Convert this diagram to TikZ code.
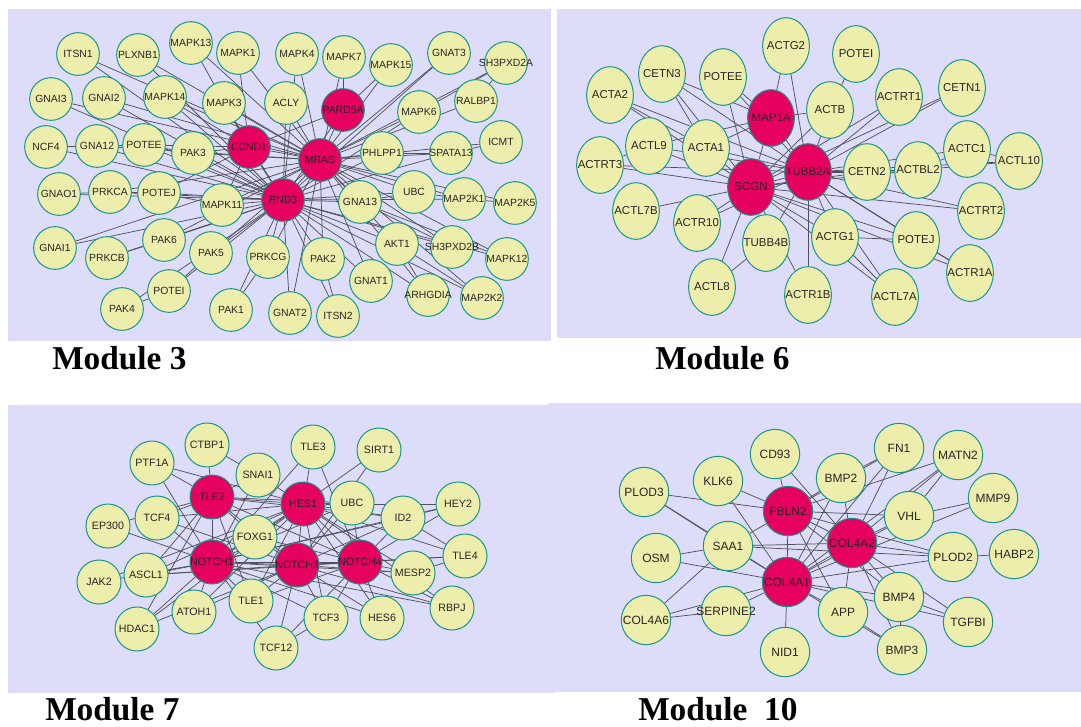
\documentclass[tikz,border=0pt]{standalone}
\usepackage{fontspec}
\setmainfont{Liberation Sans}
\newfontfamily\serifb{Liberation Serif}
\usetikzlibrary{shapes.geometric}
\definecolor{lav}{RGB}{221,221,249}
\definecolor{yel}{RGB}{238,238,172}
\definecolor{bord}{RGB}{24,150,140}
\definecolor{hubc}{RGB}{230,0,96}
\definecolor{edgec}{RGB}{80,80,90}
\pgfdeclarelayer{panel}
\pgfdeclarelayer{edges}
\pgfsetlayers{panel,edges,main}
\tikzset{
  edge/.style={draw=edgec, line width=0.55pt},
  panelbox/.style={fill=lav, draw=none},
  nA/.style={circle, draw=bord, fill=yel, line width=0.75pt, minimum size=32pt, inner sep=0pt},
  hA/.style={nA, fill=hubc},
  nAt/.style={font=\fontsize{7.8}{8}\selectfont, inner sep=0pt, text=black!85},
  hAt/.style={nAt},
  nB/.style={ellipse, draw=bord, fill=yel, line width=0.75pt, minimum width=35pt, minimum height=42.5pt, inner sep=0pt},
  hB/.style={nB, fill=hubc},
  nBt/.style={font=\fontsize{8.6}{9}\selectfont, inner sep=0pt, text=black!85},
  hBt/.style={nBt},
  nC/.style={circle, draw=bord, fill=yel, line width=0.75pt, minimum size=33pt, inner sep=0pt},
  hC/.style={nC, fill=hubc},
  nCt/.style={font=\fontsize{8}{9}\selectfont, inner sep=0pt, text=black!85},
  hCt/.style={nCt},
  nD/.style={circle, draw=bord, fill=yel, line width=0.75pt, minimum size=37pt, inner sep=0pt},
  hD/.style={nD, fill=hubc},
  nDt/.style={font=\fontsize{9}{10}\selectfont, inner sep=0pt, text=black!85},
  hDt/.style={nDt},
  modlabel/.style={font=\serifb\bfseries\fontsize{25}{28}\selectfont, inner sep=0pt, anchor=base west}
}
\newcommand\gnode[5]{\node[#1, label={[#1t]center:#5}] (#2) at (#3,#4) {};}
\newcommand\links[3]{\foreach \t in {#3} {\draw[edge] (#1#2) -- (#1\t);}}
\begin{document}
\begin{tikzpicture}[x=0.75pt, y=-0.75pt]
\useasboundingbox (0,0) rectangle (1081,726);
\begin{pgfonlayer}{panel}
\fill[white] (0,0) rectangle (1081,726);
\path[panelbox] (8,9) rectangle (551,341);
\path[panelbox] (557,9) rectangle (1081,338);
\path[panelbox] (8,405) rectangle (555,693);
\path[panelbox] (548,403) rectangle (1081,692);
\end{pgfonlayer}

% ---------------- Module 3 ----------------
\gnode{nA}{aITSN1}{78}{54}{ITSN1}
\gnode{nA}{aPLXNB1}{138}{55}{PLXNB1}
\gnode{nA}{aMAPK13}{191}{43}{MAPK13}
\gnode{nA}{aMAPK1}{238}{53}{MAPK1}
\gnode{nA}{aMAPK4}{297}{54}{MAPK4}
\gnode{nA}{aMAPK7}{344}{57}{MAPK7}
\gnode{nA}{aMAPK15}{391}{65}{MAPK15}
\gnode{nA}{aGNAT3}{449}{53}{GNAT3}
\gnode{nA}{aSH3PXD2A}{506}{63}{SH3PXD2A}
\gnode{nA}{aGNAI3}{51}{99}{GNAI3}
\gnode{nA}{aGNAI2}{104}{98}{GNAI2}
\gnode{nA}{aMAPK14}{165}{97}{MAPK14}
\gnode{nA}{aMAPK3}{224}{103}{MAPK3}
\gnode{nA}{aACLY}{286}{103}{ACLY}
\gnode{hA}{aPARD6A}{343}{110}{PARD6A}
\gnode{nA}{aMAPK6}{419}{112}{MAPK6}
\gnode{nA}{aRALBP1}{476}{101}{RALBP1}
\gnode{nA}{aICMT}{501}{142}{ICMT}
\gnode{nA}{aNCF4}{46}{147}{NCF4}
\gnode{nA}{aGNA12}{97}{146}{GNA12}
\gnode{nA}{aPOTEE}{144}{145}{POTEE}
\gnode{nA}{aPAK3}{193}{153}{PAK3}
\gnode{hA}{aCCND1}{249}{147}{CCND1}
\gnode{hA}{aMRAS}{320}{160}{MRAS}
\gnode{nA}{aPHLPP1}{382}{153}{PHLPP1}
\gnode{nA}{aSPATA13}{451}{153}{SPATA13}
\gnode{nA}{aGNAO1}{59}{194}{GNAO1}
\gnode{nA}{aPRKCA}{110}{192}{PRKCA}
\gnode{nA}{aPOTEJ}{159}{193}{POTEJ}
\gnode{nA}{aMAPK11}{222}{205}{MAPK11}
\gnode{hA}{aRND3}{283}{200}{RND3}
\gnode{nA}{aGNA13}{360}{202}{GNA13}
\gnode{nA}{aUBC}{414}{192}{UBC}
\gnode{nA}{aMAP2K1}{464}{199}{MAP2K1}
\gnode{nA}{aMAP2K5}{515}{203}{MAP2K5}
\gnode{nA}{aGNAI1}{55}{248}{GNAI1}
\gnode{nA}{aPRKCB}{107}{258}{PRKCB}
\gnode{nA}{aPAK6}{164}{240}{PAK6}
\gnode{nA}{aPAK5}{211}{253}{PAK5}
\gnode{nA}{aPRKCG}{268}{257}{PRKCG}
\gnode{nA}{aPAK2}{323}{259}{PAK2}
\gnode{nA}{aAKT1}{397}{244}{AKT1}
\gnode{nA}{aSH3PXD2B}{452}{247}{SH3PXD2B}
\gnode{nA}{aMAPK12}{507}{259}{MAPK12}
\gnode{nA}{aPOTEI}{169}{291}{POTEI}
\gnode{nA}{aPAK4}{122}{309}{PAK4}
\gnode{nA}{aPAK1}{231}{310}{PAK1}
\gnode{nA}{aGNAT2}{290}{313}{GNAT2}
\gnode{nA}{aITSN2}{338}{316}{ITSN2}
\gnode{nA}{aGNAT1}{371}{281}{GNAT1}
\gnode{nA}{aARHGDIA}{428}{295}{ARHGDIA}
\gnode{nA}{aMAP2K2}{482}{298}{MAP2K2}

% ---------------- Module 6 ----------------
\gnode{nB}{bACTG2}{786}{46}{ACTG2}
\gnode{nB}{bCETN3}{662}{74}{CETN3}
\gnode{nB}{bPOTEE}{723}{77}{POTEE}
\gnode{nB}{bACTA2}{610}{95}{ACTA2}
\gnode{hB}{bMAP1A}{771}{118}{MAP1A}
\gnode{nB}{bACTL9}{649}{146}{ACTL9}
\gnode{nB}{bACTA1}{706}{148}{ACTA1}
\gnode{nB}{bACTRT3}{600}{165}{ACTRT3}
\gnode{nB}{bACTB}{830}{110}{ACTB}
\gnode{hB}{bSCGN}{751}{187}{SCGN}
\gnode{hB}{bTUBB2A}{808}{172}{TUBB2A}
\gnode{nB}{bPOTEI}{856}{54}{POTEI}
\gnode{nB}{bACTRT1}{899}{97}{ACTRT1}
\gnode{nB}{bCETN1}{962}{88}{CETN1}
\gnode{nB}{bACTC1}{967}{149}{ACTC1}
\gnode{nB}{bACTL10}{1019}{161}{ACTL10}
\gnode{nB}{bCETN2}{867}{172}{CETN2}
\gnode{nB}{bACTBL2}{918}{170}{ACTBL2}
\gnode{nB}{bACTL7B}{636}{211}{ACTL7B}
\gnode{nB}{bACTR10}{697}{223}{ACTR10}
\gnode{nB}{bTUBB4B}{766}{243}{TUBB4B}
\gnode{nB}{bACTL8}{712}{287}{ACTL8}
\gnode{nB}{bACTR1B}{808}{295}{ACTR1B}
\gnode{nB}{bACTRT2}{981}{211}{ACTRT2}
\gnode{nB}{bACTG1}{835}{237}{ACTG1}
\gnode{nB}{bPOTEJ}{916}{240}{POTEJ}
\gnode{nB}{bACTR1A}{970}{273}{ACTR1A}
\gnode{nB}{bACTL7A}{895}{297}{ACTL7A}

% ---------------- Module 7 ----------------
\gnode{nC}{cCTBP1}{207}{445}{CTBP1}
\gnode{nC}{cPTF1A}{152}{463}{PTF1A}
\gnode{nC}{cSNAI1}{258}{475}{SNAI1}
\gnode{hC}{cTLE2}{212}{497}{TLE2}
\gnode{nC}{cTCF4}{157}{518}{TCF4}
\gnode{nC}{cEP300}{108}{526}{EP300}
\gnode{nC}{cFOXG1}{255}{537}{FOXG1}
\gnode{hC}{cNOTCH1}{212}{562}{NOTCH1}
\gnode{nC}{cJAK2}{99}{582}{JAK2}
\gnode{nC}{cASCL1}{146}{575}{ASCL1}
\gnode{nC}{cATOH1}{194}{612}{ATOH1}
\gnode{nC}{cTLE1}{251}{601}{TLE1}
\gnode{nC}{cHDAC1}{137}{629}{HDAC1}
\gnode{nC}{cTCF12}{276}{648}{TCF12}
\gnode{nC}{cTLE3}{313}{447}{TLE3}
\gnode{nC}{cSIRT1}{379}{450}{SIRT1}
\gnode{hC}{cHES1}{303}{504}{HES1}
\gnode{nC}{cUBC}{352}{503}{UBC}
\gnode{nC}{cID2}{403}{518}{ID2}
\gnode{nC}{cHEY2}{458}{504}{HEY2}
\gnode{hC}{cNOTCH3}{297}{565}{NOTCH3}
\gnode{hC}{cNOTCH4}{360}{562}{NOTCH4}
\gnode{nC}{cMESP2}{413}{573}{MESP2}
\gnode{nC}{cTLE4}{465}{556}{TLE4}
\gnode{nC}{cTCF3}{326}{618}{TCF3}
\gnode{nC}{cHES6}{382}{618}{HES6}
\gnode{nC}{cRBPJ}{452}{608}{RBPJ}

% ---------------- Module 10 ----------------
\gnode{nD}{dCD93}{775}{454}{CD93}
\gnode{nD}{dKLK6}{718}{481}{KLK6}
\gnode{nD}{dPLOD3}{644}{492}{PLOD3}
\gnode{hD}{dFBLN2}{788}{511}{FBLN2}
\gnode{nD}{dSAA1}{728}{546}{SAA1}
\gnode{nD}{dOSM}{656}{558}{OSM}
\gnode{hD}{dCOL4A1}{787}{582}{COL4A1}
\gnode{nD}{dCOL4A6}{646}{620}{COL4A6}
\gnode{nD}{dSERPINE2}{726}{611}{SERPINE2}
\gnode{nD}{dNID1}{785}{652}{NID1}
\gnode{nD}{dFN1}{899}{448}{FN1}
\gnode{nD}{dMATN2}{958}{455}{MATN2}
\gnode{nD}{dBMP2}{841}{478}{BMP2}
\gnode{nD}{dMMP9}{993}{498}{MMP9}
\gnode{nD}{dVHL}{909}{516}{VHL}
\gnode{hD}{dCOL4A2}{852}{543}{COL4A2}
\gnode{nD}{dPLOD2}{953}{557}{PLOD2}
\gnode{nD}{dHABP2}{1014}{554}{HABP2}
\gnode{nD}{dBMP4}{899}{597}{BMP4}
\gnode{nD}{dAPP}{843}{612}{APP}
\gnode{nD}{dTGFBI}{968}{622}{TGFBI}
\gnode{nD}{dBMP3}{902}{650}{BMP3}

% ---------------- edges ----------------
\begin{pgfonlayer}{edges}
% Module 3
\links{a}{MRAS}{MAPK13,MAPK1,MAPK4,MAPK7,MAPK15,GNAT3,SH3PXD2A,ACLY,PARD6A,MAPK6,RALBP1,PHLPP1,SPATA13,ICMT,MAPK14,MAPK3,ITSN1,PLXNB1,GNAI2,GNAI3,CCND1,RND3,UBC,MAP2K1,MAP2K5,GNA13,AKT1,SH3PXD2B,MAPK12,MAP2K2,ARHGDIA,PAK3,GNA12,PRKCA,MAPK11,GNAI1,PAK6,PAK5,PRKCG,GNAT2,PAK2,GNAT1}
\links{a}{RND3}{PAK3,POTEE,GNA12,NCF4,GNAO1,PRKCA,POTEJ,MAPK11,GNAI1,PRKCB,PAK6,PAK5,POTEI,PAK4,PAK1,PRKCG,GNAT2,ITSN2,PAK2,GNAT1,GNA13,AKT1,ARHGDIA,MAP2K2,UBC,MAP2K1,CCND1,MAPK14,MAPK3,PARD6A,PHLPP1,SPATA13,MAPK12,SH3PXD2B,ITSN1,PLXNB1,GNAI3,GNAI2,MAPK4,ACLY,GNAT3,MAPK6}
\links{a}{CCND1}{MAPK13,MAPK1,MAPK3,MAPK14,PAK3,POTEE,POTEJ,MAPK11,PARD6A}
\links{a}{PARD6A}{MAPK15,MAPK7}
\draw[edge] (aNCF4) -- (aGNA12);
\draw[edge] (aGNA12) -- (aPOTEE);
\draw[edge] (aPOTEE) -- (aPAK3);
\draw[edge] (aGNAO1) -- (aPRKCA);
\draw[edge] (aPRKCA) -- (aPOTEJ);
\draw[edge] (aPOTEJ) -- (aMAPK11);
\draw[edge] (aPRKCB) -- (aPAK6);
\draw[edge] (aPOTEI) -- (aPAK4);
\draw[edge] (aPOTEI) -- (aPAK5);
\draw[edge] (aPAK1) -- (aPRKCG);
\draw[edge] (aPAK2) -- (aITSN2);
\draw[edge] (aGNA13) -- (aUBC);
\draw[edge] (aUBC) -- (aMAP2K1);
\draw[edge] (aMAP2K1) -- (aMAP2K5);
\draw[edge] (aRALBP1) -- (aSH3PXD2A);
\draw[edge] (aMAPK6) -- (aSH3PXD2A);
\draw[edge] (aSPATA13) -- (aICMT);
\draw[edge] (aPHLPP1) -- (aSPATA13);
\draw[edge] (aAKT1) -- (aMAP2K2);
\draw[edge] (aAKT1) -- (aARHGDIA);
\draw[edge] (aGNA13) -- (aSH3PXD2B);
\draw[edge] (aGNA13) -- (aMAPK12);
% Module 6
\links{b}{SCGN}{ACTRT3,ACTL7B,ACTR10,ACTL8,TUBB4B,ACTR1B,ACTG1,ACTA1,ACTL9,ACTA2,CETN3,POTEE,ACTB,ACTRT1,CETN1,CETN2,ACTBL2,ACTRT2,POTEJ,ACTL7A,ACTR1A,MAP1A,TUBB2A}
\links{b}{TUBB2A}{ACTG2,ACTB,ACTRT1,CETN1,ACTC1,ACTL10,CETN2,ACTBL2,ACTRT2,POTEJ,ACTR1A,ACTL7A,ACTG1,ACTR1B,TUBB4B,ACTR10,ACTA1,ACTRT3,ACTL9,POTEE,CETN3,ACTA2,MAP1A}
\links{b}{MAP1A}{ACTG2,POTEE,CETN3,ACTA1,ACTL9,ACTB}
\draw[edge] (bPOTEI) -- (bACTB);
\draw[edge] (bCETN2) -- (bACTBL2);
\draw[edge] (bACTBL2) -- (bACTC1);
\draw[edge] (bACTC1) -- (bACTL10);
\draw[edge] (bACTBL2) -- (bACTL10);
\draw[edge] (bPOTEJ) -- (bACTR1A);
\draw[edge] (bACTG1) -- (bACTL7A);
\draw[edge] (bACTG1) -- (bPOTEJ);
\draw[edge] (bTUBB4B) -- (bACTL8);
\draw[edge] (bACTA1) -- (bACTA2);
\draw[edge] (bACTA1) -- (bCETN3);
\draw[edge] (bACTRT3) -- (bACTL9);
% Module 7
\links{c}{TLE2}{CTBP1,PTF1A,SNAI1,TCF4,FOXG1,NOTCH1,HES1,NOTCH3,NOTCH4,ASCL1,HDAC1,UBC,ID2,TLE1,EP300}
\links{c}{HES1}{TLE3,SIRT1,SNAI1,UBC,ID2,HEY2,NOTCH1,NOTCH3,NOTCH4,FOXG1,TCF4,PTF1A,ASCL1,ATOH1,TLE1,HES6,MESP2,TLE4,RBPJ,TCF3,HDAC1,JAK2}
\links{c}{NOTCH1}{PTF1A,TCF4,EP300,JAK2,ASCL1,HDAC1,ATOH1,TLE1,TCF12,TCF3,HES6,FOXG1,NOTCH3,NOTCH4,MESP2,RBPJ,UBC,ID2,HEY2,TLE3,SNAI1}
\links{c}{NOTCH3}{TCF12,TCF3,HES6,TLE1,ATOH1,ASCL1,MESP2,RBPJ,TLE4,ID2,NOTCH4,FOXG1,TCF4,HDAC1,UBC,SIRT1}
\links{c}{NOTCH4}{MESP2,RBPJ,TLE4,ID2,HEY2,HES6,TCF3,TCF12,FOXG1,UBC,TLE1,TLE3,ASCL1}
\draw[edge] (cID2) -- (cHEY2);
\draw[edge] (cID2) -- (cTLE4);
\draw[edge] (cMESP2) -- (cTLE4);
\draw[edge] (cTCF3) -- (cTCF12);
\draw[edge] (cCTBP1) -- (cSNAI1);
% Module 10
\links{d}{FBLN2}{CD93,KLK6,PLOD3,SAA1,COL4A1,COL4A2,BMP2,FN1,VHL,PLOD2,APP,BMP4,MATN2}
\links{d}{COL4A1}{COL4A2,SAA1,OSM,SERPINE2,NID1,APP,BMP4,BMP3,PLOD2,VHL,MMP9,BMP2,KLK6,FN1,COL4A6,TGFBI,PLOD3,MATN2}
\links{d}{COL4A2}{BMP2,FN1,VHL,PLOD2,BMP4,TGFBI,BMP3,APP,SAA1,CD93,MATN2}
\draw[edge] (dPLOD3) -- (dSAA1);
\draw[edge] (dCOL4A6) -- (dSAA1);
\draw[edge] (dCOL4A6) -- (dSERPINE2);
\draw[edge] (dOSM) -- (dSAA1);
\draw[edge] (dPLOD2) -- (dHABP2);
\draw[edge] (dVHL) -- (dMMP9);
\draw[edge] (dVHL) -- (dMATN2);
\draw[edge] (dBMP2) -- (dFN1);
\draw[edge] (dBMP4) -- (dTGFBI);
\draw[edge] (dAPP) -- (dBMP3);
\draw[edge] (dBMP4) -- (dBMP3);
\draw[edge] (dSAA1) -- (dPLOD2);
\end{pgfonlayer}

% ---------------- module labels ----------------
\node[modlabel] (lab3) at (52,369) {Module 3};
\node[modlabel] (lab6) at (655,369) {Module 6};
\node[modlabel] (lab7) at (45,720) {Module 7};
\node[modlabel] (lab10) at (638,720) {Module\ \ 10};
\end{tikzpicture}
\end{document}
